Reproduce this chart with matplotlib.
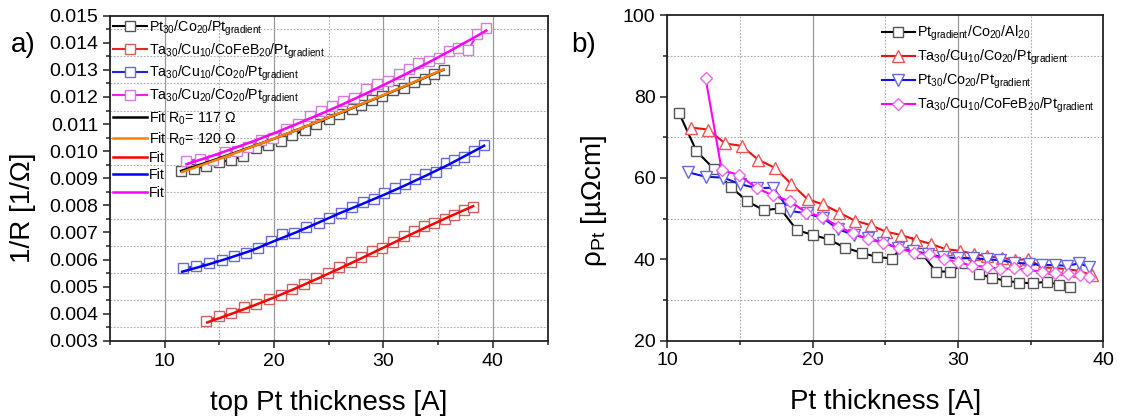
import matplotlib
matplotlib.use("Agg")
import matplotlib.pyplot as plt
from matplotlib.ticker import MultipleLocator, FormatStrFormatter

plt.rcParams['font.family'] = ['Liberation Sans', 'DejaVu Sans']
plt.rcParams['mathtext.fontset'] = 'custom'
plt.rcParams['mathtext.rm'] = 'Liberation Sans'
plt.rcParams['mathtext.it'] = 'Liberation Sans:italic'
plt.rcParams['mathtext.bf'] = 'Liberation Sans:bold'

# ==========================================================
# DATOS panel a) : 1/R vs espesor de Pt superior
# ==========================================================
t_ptco = [11.47, 12.71, 13.82, 14.99, 16.03, 17.17, 18.32, 19.46, 20.6, 21.67, 22.82, 23.86,
          25.0, 25.98, 27.12, 27.93, 28.91, 29.89, 30.87, 31.85, 32.83, 33.8, 34.62, 35.53]
g_ptco = [0.00925, 0.00935, 0.00945, 0.00960, 0.00966, 0.00982, 0.01012, 0.01021, 0.01036,
          0.01058, 0.01079, 0.01101, 0.01119, 0.01138, 0.01154, 0.01172, 0.01190, 0.01205,
          0.01224, 0.01233, 0.01254, 0.01267, 0.01283, 0.01300]

t_cofeb = [13.82, 14.96, 16.10, 17.27, 18.38, 19.52, 20.60, 21.67, 22.78, 23.86, 24.93, 25.98,
           27.05, 27.93, 28.91, 29.83, 30.87, 31.85, 32.83, 33.74, 34.62, 35.60, 36.41, 37.33, 38.21]
g_cofeb = [0.00374, 0.00391, 0.00404, 0.00423, 0.00435, 0.00454, 0.00468, 0.00490, 0.00511,
           0.00530, 0.00551, 0.00573, 0.00591, 0.00610, 0.00632, 0.00644, 0.00665, 0.00686,
           0.00705, 0.00724, 0.00735, 0.00751, 0.00763, 0.00781, 0.00794]

t_cu10 = [11.70, 12.87, 14.08, 15.22, 16.36, 17.43, 18.54, 19.68, 20.76, 21.80, 22.95, 24.12,
          25.0, 26.08, 27.12, 28.10, 29.17, 30.05, 31.03, 32.01, 32.89, 33.80, 34.78, 35.70,
          36.48, 37.39, 38.27, 39.18]
g_cu10 = [0.00567, 0.00576, 0.00589, 0.00597, 0.00612, 0.00625, 0.00644, 0.00668, 0.00696,
          0.00699, 0.00720, 0.00735, 0.00754, 0.00773, 0.00794, 0.00812, 0.00822, 0.00845,
          0.00865, 0.00880, 0.00896, 0.00917, 0.00923, 0.00956, 0.00968, 0.00980, 0.01000, 0.01023]

t_cu20 = [11.96, 13.2, 14.4, 15.5, 16.6, 17.64, 18.8, 19.9, 21.1, 22.2, 23.3, 24.3, 25.3, 26.3,
          27.3, 28.4, 29.4, 30.4, 31.4, 32.3, 33.2, 34.2, 35.1, 36.0, 36.8, 37.75, 38.57, 39.41]
g_cu20 = [0.00962, 0.00972, 0.00967, 0.00998, 0.01001, 0.01016, 0.01040, 0.01048, 0.01082,
          0.01100, 0.01128, 0.01150, 0.01166, 0.01186, 0.01195, 0.01228, 0.01247, 0.01259,
          0.01284, 0.01303, 0.01324, 0.01332, 0.01345, 0.01371, 0.01379, 0.01373, 0.01431, 0.01453]

# Ajustes
t_fit_ptco = [11.5, 14, 16, 18, 20, 22, 24, 26, 28, 30, 32, 34, 35.5]
fit_r117 = [0.00927, 0.00960, 0.00988, 0.01017, 0.01046, 0.01077, 0.01108, 0.01140, 0.01173,
            0.01206, 0.01240, 0.01275, 0.01301]
t_fit_r120 = [11.6, 14, 16, 18, 20, 22, 24, 26, 28, 30, 32, 34, 35.5]
fit_r120 = [0.00923, 0.00957, 0.00986, 0.01016, 0.01046, 0.01077, 0.01109, 0.01141, 0.01174,
            0.01207, 0.01241, 0.01276, 0.01302]
t_fit_cofeb = [13.9, 16, 18, 20, 22, 24, 26, 28, 30, 32, 34, 36, 38.2]
fit_cofeb = [0.00368, 0.00398, 0.00428, 0.00460, 0.00494, 0.00530, 0.00567, 0.00605, 0.00644,
             0.00683, 0.00721, 0.00758, 0.00797]
t_fit_cu10 = [11.6, 14, 16, 18, 20, 22, 24, 26, 28, 30, 32, 34, 36, 38, 39.2]
fit_cu10 = [0.00555, 0.00582, 0.00607, 0.00634, 0.00668, 0.00700, 0.00735, 0.00771, 0.00804,
            0.00838, 0.00874, 0.00912, 0.00951, 0.00994, 0.01020]
t_fit_cu20 = [12, 14, 16, 18, 20, 22, 24, 26, 28, 30, 32, 34, 36, 38, 39.4]
fit_cu20 = [0.00952, 0.00978, 0.01006, 0.01035, 0.01066, 0.01099, 0.01133, 0.01168, 0.01205,
            0.01244, 0.01284, 0.01325, 0.01368, 0.01413, 0.01445]

# ==========================================================
# DATOS panel b) : resistividad del Pt
# ==========================================================
tb_al = [10.81, 12.01, 13.19, 14.37, 15.50, 16.63, 17.78, 18.91, 20.02, 21.12, 22.20, 23.38,
         24.41, 25.44, 26.48, 27.51, 28.49, 29.46, 30.49, 31.45, 32.37, 33.29, 34.23, 35.15,
         36.11, 36.98, 37.70]
rho_al = [76.0, 66.6, 62.3, 57.8, 54.3, 52.1, 52.5, 47.2, 46.0, 44.9, 42.9, 41.6, 40.6, 40.2,
          44.2, 41.5, 37.0, 37.0, 39.0, 36.3, 35.5, 34.7, 34.3, 34.1, 34.5, 33.7, 33.3]

tb_cu10 = [11.64, 12.82, 13.98, 15.11, 16.26, 17.41, 18.52, 19.65, 20.73, 21.83, 22.91, 24.0,
           25.05, 26.08, 27.12, 28.15, 29.16, 30.15, 31.10, 32.03, 33.01, 33.93, 34.85, 35.77,
           36.60, 37.45, 38.30, 39.22]
rho_cu10 = [72.4, 71.9, 68.5, 67.9, 64.5, 62.5, 58.6, 54.8, 53.5, 51.5, 49.5, 48.4, 46.8, 46.0,
            44.8, 43.8, 42.5, 42.1, 41.3, 40.7, 40.4, 39.8, 40.1, 38.0, 37.9, 37.6, 37.2, 36.1]

tb_ptco = [11.45, 12.64, 13.85, 15.0, 16.15, 17.3, 18.44, 19.59, 20.74, 21.77, 22.82, 23.83,
           24.87, 25.9, 26.93, 27.96, 28.99, 30.03, 31.02, 31.98, 32.9, 33.88, 34.9, 35.81,
           36.68, 37.49, 38.3, 39.0]
rho_ptco = [61.4, 60.3, 60.1, 58.5, 57.5, 57.6, 51.9, 51.3, 50.1, 47.4, 46.0, 45.2, 44.1, 42.7,
            42.1, 41.3, 40.5, 40.3, 40.3, 40.0, 39.8, 39.2, 38.9, 38.6, 38.6, 38.4, 39.0, 38.2]

tb_cofeb = [12.64, 13.74, 14.96, 16.15, 17.3, 18.44, 19.55, 20.67, 21.77, 22.8, 23.83, 24.87,
            25.97, 27.0, 28.03, 29.04, 30.03, 30.95, 31.98, 32.9, 33.86, 34.78, 35.77, 36.68,
            37.6, 38.4, 39.0]
rho_cofeb = [84.5, 62.0, 60.7, 57.5, 55.7, 54.3, 51.5, 50.5, 48.0, 46.4, 44.9, 44.1, 42.7, 41.6,
             41.3, 40.0, 39.4, 38.4, 38.2, 37.6, 37.8, 37.4, 37.0, 36.6, 36.3, 36.1, 35.7]

# ==========================================================
# FIGURA
# ==========================================================
fig = plt.figure(figsize=(11.22, 4.19), dpi=100)
ax_a = fig.add_axes([0.098, 0.1866, 0.390, 0.776])
ax_b = fig.add_axes([0.5947, 0.1869, 0.3886, 0.7766])


def estilo_ejes(ax):
    for s in ax.spines.values():
        s.set_linewidth(1.3)
        s.set_color('#222222')
    ax.tick_params(which='both', direction='out', top=False, right=False, labelsize=14,
                   width=1.1, color='#222222')
    ax.tick_params(which='major', length=5)
    ax.tick_params(which='minor', length=3)
    ax.grid(True, which='major', axis='x', color='#999999', linestyle='-', linewidth=0.9)
    ax.grid(True, which='minor', axis='both', color='#aaaaaa', linestyle=(0, (1.5, 1.5)),
            linewidth=0.8)
    ax.set_axisbelow(True)


# ---------------- panel a) ----------------
kw = dict(marker='s', ms=7, mfc='white', mew=1.0, lw=1.5)
h1, = ax_a.plot(t_ptco, g_ptco, color='black', mec='#555555', **kw,
                label=r'Pt$_{30}$/Co$_{20}$/Pt$_{\mathrm{gradient}}$')
h2, = ax_a.plot(t_cofeb, g_cofeb, color='#ee2222', mec='#d06060', **kw,
                label=r'Ta$_{30}$/Cu$_{10}$/CoFeB$_{20}$/Pt$_{\mathrm{gradient}}$')
h3, = ax_a.plot(t_cu10, g_cu10, color='#2222ee', mec='#6a6ae0', **kw,
                label=r'Ta$_{30}$/Cu$_{10}$/Co$_{20}$/Pt$_{\mathrm{gradient}}$')
h4, = ax_a.plot(t_cu20, g_cu20, color='#ee22ee', mec='#d080d8', **kw,
                label=r'Ta$_{30}$/Cu$_{20}$/Co$_{20}$/Pt$_{\mathrm{gradient}}$')

f1, = ax_a.plot(t_fit_ptco, fit_r117, color='black', lw=1.8, label=r'Fit R$_0$= 117 Ω')
f2, = ax_a.plot(t_fit_r120, fit_r120, color='#ff8000', lw=1.8, label=r'Fit R$_0$= 120 Ω')
f3, = ax_a.plot(t_fit_cofeb, fit_cofeb, color='#ff0000', lw=1.8, label='Fit')
f4, = ax_a.plot(t_fit_cu10, fit_cu10, color='#0000ff', lw=1.8, label='Fit')
f5, = ax_a.plot(t_fit_cu20, fit_cu20, color='#ff00ff', lw=1.8, label='Fit')

ax_a.set_xlim(5, 45)
ax_a.set_ylim(0.003, 0.015)
ax_a.xaxis.set_major_locator(MultipleLocator(10))
ax_a.xaxis.set_minor_locator(MultipleLocator(5))
ax_a.yaxis.set_major_locator(MultipleLocator(0.001))
ax_a.yaxis.set_minor_locator(MultipleLocator(0.0005))
ax_a.yaxis.set_major_formatter(FormatStrFormatter('%.3f'))
estilo_ejes(ax_a)

ax_a.set_xlabel('top Pt thickness [A]', fontsize=20)
ax_a.set_ylabel('1/R [1/Ω]', fontsize=20)
ax_a.xaxis.set_label_coords(0.5, -0.15)
ax_a.yaxis.set_label_coords(-0.17, 0.41)

ax_a.legend(handles=[h1, h2, h3, h4, f1, f2, f3, f4, f5], loc='upper left',
            bbox_to_anchor=(0.0, 1.0), frameon=False, fontsize=10.2, handlelength=2.4,
            handletextpad=0.15, labelspacing=0.24, borderaxespad=0.1, borderpad=0.1)
fig.text(0.010, 0.875, 'a)', fontsize=20)

# ---------------- panel b) ----------------
ax_b.plot(tb_al, rho_al, color='black', lw=1.5, marker='s', ms=7, mfc='white',
          mec='#555555', mew=1.0,
          label=r'Pt$_{\mathrm{gradient}}$/Co$_{20}$/Al$_{20}$')
ax_b.plot(tb_cu10, rho_cu10, color='#ee1111', lw=1.5, marker='^', ms=8.5, mfc='white',
          mec='#ee5555', mew=1.0,
          label=r'Ta$_{30}$/Cu$_{10}$/Co$_{20}$/Pt$_{\mathrm{gradient}}$')
ax_b.plot(tb_ptco, rho_ptco, color='#1111ee', lw=1.5, marker='v', ms=8.5, mfc='white',
          mec='#6666ee', mew=1.0,
          label=r'Pt$_{30}$/Co$_{20}$/Pt$_{\mathrm{gradient}}$')
ax_b.plot(tb_cofeb, rho_cofeb, color='#ff00ff', lw=1.5, marker='D', ms=6.5, mfc='white',
          mec='#ee66ee', mew=1.0,
          label=r'Ta$_{30}$/Cu$_{10}$/CoFeB$_{20}$/Pt$_{\mathrm{gradient}}$')

ax_b.set_xlim(10, 40)
ax_b.set_ylim(20, 100)
ax_b.xaxis.set_major_locator(MultipleLocator(10))
ax_b.xaxis.set_minor_locator(MultipleLocator(5))
ax_b.yaxis.set_major_locator(MultipleLocator(20))
ax_b.yaxis.set_minor_locator(MultipleLocator(10))
estilo_ejes(ax_b)

ax_b.set_xlabel('Pt thickness [A]', fontsize=20)
ax_b.set_ylabel(r'ρ$_{\mathrm{Pt}}$ [µΩcm]', fontsize=20)
ax_b.xaxis.set_label_coords(0.5, -0.15)
ax_b.yaxis.set_label_coords(-0.134, 0.43)

ax_b.legend(loc='upper right', bbox_to_anchor=(1.0, 1.0), frameon=False, fontsize=10.3,
            handlelength=2.3, handletextpad=0.15, labelspacing=0.33, borderaxespad=0.3,
            borderpad=0.3)
fig.text(0.509, 0.875, 'b)', fontsize=20)

fig.savefig('out.png', dpi=100, facecolor='white')
